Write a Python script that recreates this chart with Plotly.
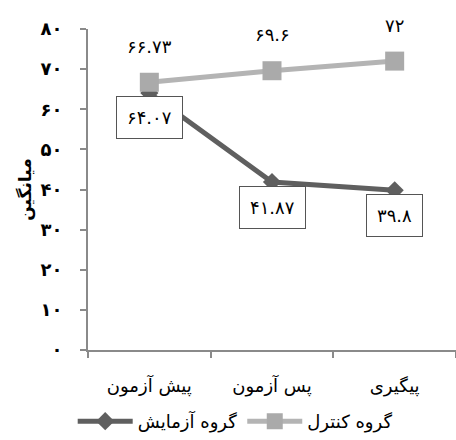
import plotly.graph_objects as go

categories = ["پیش آزمون", "پس آزمون", "پیگیری"]
experiment = [64.07, 41.87, 39.8]
control = [66.73, 69.6, 72]
experiment_labels = ["۶۴.۰۷", "۴۱.۸۷", "۳۹.۸"]
control_labels = ["۶۶.۷۳", "۶۹.۶", "۷۲"]
y_tickvals = [0, 10, 20, 30, 40, 50, 60, 70, 80]
y_ticktext = ["۰", "۱۰", "۲۰", "۳۰", "۴۰", "۵۰", "۶۰", "۷۰", "۸۰"]
name_exp = "گروه آزمایش"
name_ctl = "گروه کنترل"
y_title = "میانگین"

FONT = "DejaVu Sans"

fig = go.Figure()
fig.add_trace(go.Scatter(
    x=categories, y=experiment, name=name_exp, mode="lines+markers",
    line=dict(color="#5f5f5f", width=5),
    marker=dict(symbol="diamond", size=14, color="#5f5f5f"),
))
fig.add_trace(go.Scatter(
    x=categories, y=control, name=name_ctl, mode="lines+markers",
    line=dict(color="#b4b4b4", width=5),
    marker=dict(symbol="square", size=19, color="#aaaaaa"),
))

annotations = []
for c, v, t in zip(categories, control, control_labels):
    annotations.append(dict(x=c, y=v, text=t, showarrow=False, yshift=36,
                            font=dict(family=FONT, size=18, color="black")))
for c, v, t in zip(categories, experiment, experiment_labels):
    annotations.append(dict(x=c, y=v, text=t, showarrow=False, yshift=-25,
                            bordercolor="#555555", borderwidth=1, borderpad=10,
                            bgcolor="white",
                            font=dict(family=FONT, size=18, color="black")))

fig.update_layout(
    width=456, height=440,
    margin=dict(l=88, r=0, t=29, b=90),
    paper_bgcolor="white", plot_bgcolor="white",
    font=dict(family=FONT, color="black"),
    showlegend=True,
    legend=dict(orientation="h", x=0.40, xanchor="center",
                y=-0.165, yanchor="top", itemwidth=55,
                font=dict(family=FONT, size=18, color="black"),
                traceorder="normal"),
    annotations=annotations,
    xaxis=dict(
        type="category", range=[-0.5, 2.5], showgrid=False, zeroline=False,
        showline=True, linecolor="#8a8a8a", linewidth=2,
        ticks="outside", tickson="boundaries", ticklen=6, tickcolor="#8a8a8a",
        tickwidth=2, ticklabelstandoff=18,
        tickfont=dict(family=FONT, size=18, color="black"),
    ),
    yaxis=dict(
        range=[0, 80], showgrid=False, zeroline=False,
        showline=True, linecolor="#8a8a8a", linewidth=2,
        ticks="outside", ticklen=6, tickcolor="#8a8a8a", tickwidth=2,
        ticklabelstandoff=14,
        tickvals=y_tickvals, ticktext=["<b>%s</b>" % t for t in y_ticktext],
        tickfont=dict(family=FONT, size=18, color="black"),
        title=dict(text="<b>%s</b>" % y_title, standoff=4,
                   font=dict(family=FONT, size=17, color="black")),
    ),
)

fig.write_html("out.html")
